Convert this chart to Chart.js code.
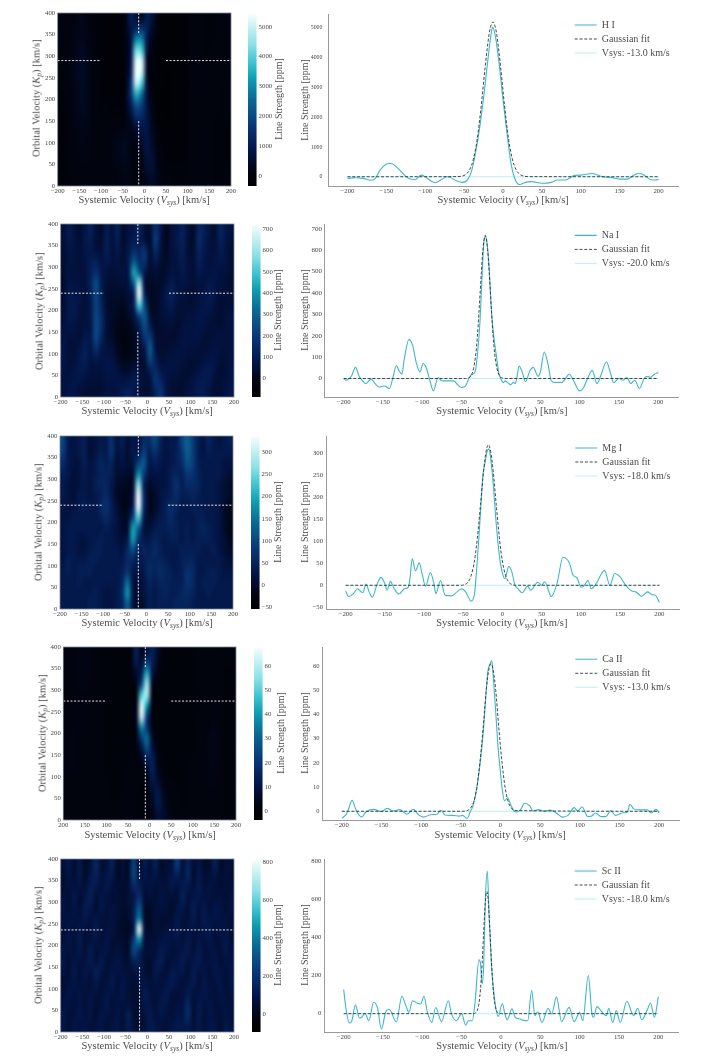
<!DOCTYPE html>
<html>
<head>
<meta charset="utf-8">
<title>Line strength maps</title>
<script src="https://cdn.jsdelivr.net/npm/chart.js@4"></script>
<style>
    html, body { margin: 0; padding: 0; background: #fff; }
    #page { position: relative; width: 708px; height: 1063px; overflow: hidden; }
    canvas { position: absolute; }
    .lbl { position: absolute; white-space: nowrap; font-family: "Liberation Serif", serif; color: #4d4d4d; line-height: 1; transform-origin: center center; }
    .lbl sub { font-size: 0.72em; line-height: 0; vertical-align: -0.25em; font-style: italic; }
</style>
</head>
<body>
<div id="page"></div>
<script>
// velocity grid of the maps (cell centres, km/s)
var mapColumns = [-193.75, -181.25, -168.75, -156.25, -143.75, -131.25, -118.75, -106.25, -93.75, -81.25, -68.75, -56.25, -43.75, -31.25, -18.75, -6.25, 6.25, 18.75, 31.25, 43.75, 56.25, 68.75, 81.25, 93.75, 106.25, 118.75, 131.25, 143.75, 156.25, 168.75, 181.25, 193.75];
var mapRows = [387.5, 362.5, 337.5, 312.5, 287.5, 262.5, 237.5, 212.5, 187.5, 162.5, 137.5, 112.5, 87.5, 62.5, 37.5, 12.5];

// tick labels
var velocityTicks = [-200, -150, -100, -50, 0, 50, 100, 150, 200];
var orbitalTicks = [0, 50, 100, 150, 200, 250, 300, 350, 400];
var hiStrengthTicks = [0, 1000, 2000, 3000, 4000, 5000];
var naStrengthTicks = [0, 100, 200, 300, 400, 500, 600, 700];
var mgStrengthTicks = [-50, 0, 50, 100, 150, 200, 250, 300];
var caStrengthTicks = [0, 10, 20, 30, 40, 50, 60];
var scStrengthTicks = [0, 200, 400, 600, 800];

// H I map (ppm)
var hiMap = [
    [50,100,100,200,300,150,0,-50,-100,-100,-100,-100,100,1000,700,300,1000,600,50,-100,-150,-150,-100,-50,0,50,50,0,0,50,100,100],
    [50,100,100,200,300,200,50,-50,-100,-100,-100,-100,100,800,1300,1600,1100,400,0,-100,-150,-150,-100,-50,0,50,50,0,0,50,100,100],
    [50,100,150,250,350,200,50,-50,-100,-100,-100,-100,50,700,3000,3000,800,200,-50,-100,-150,-150,-100,-50,0,50,50,0,0,50,100,100],
    [50,100,150,300,400,250,50,-50,-100,-100,-100,-100,0,800,4300,4000,600,100,-100,-150,-150,-150,-100,-50,50,100,50,0,50,50,50,50],
    [50,100,200,300,450,300,100,0,-100,-150,-100,-100,0,900,5200,5100,500,0,-100,-150,-150,-150,-100,-50,50,100,50,50,50,50,50,50],
    [0,50,200,350,450,300,100,0,-100,-150,-100,-100,0,1100,5400,5000,500,-50,-100,-150,-200,-150,-100,-50,50,100,100,50,50,50,50,50],
    [0,50,150,350,450,300,100,0,-50,-100,-100,-100,50,1500,5000,4000,500,-50,-150,-150,-200,-150,-100,-50,50,100,100,50,50,50,50,0],
    [0,50,150,300,400,300,100,0,-50,-100,-100,-50,100,1500,3500,2600,600,0,-150,-200,-200,-150,-100,-50,0,100,100,50,50,50,0,0],
    [-50,0,100,300,400,300,100,0,0,-50,-50,-50,100,1000,2200,1800,700,100,-150,-200,-200,-150,-100,-50,0,50,100,50,50,50,0,0],
    [-50,0,100,250,350,300,100,50,0,0,0,0,100,600,1400,1300,800,200,-100,-150,-200,-150,-100,-50,0,50,100,50,50,0,0,0],
    [-50,0,100,200,300,250,100,50,50,50,100,100,200,300,700,900,800,300,0,-100,-150,-150,-100,-50,0,50,100,100,50,0,0,-50],
    [-50,0,50,200,250,200,100,50,50,100,150,250,350,200,300,600,800,400,50,-100,-100,-100,-100,-50,0,50,100,100,50,0,0,-50],
    [-50,0,50,150,200,200,100,50,50,100,200,350,400,150,100,400,800,500,100,-50,-100,-100,-100,-50,0,50,100,100,50,0,0,-50],
    [-50,0,50,100,150,150,100,50,50,100,200,300,350,150,0,250,700,600,150,0,-50,-50,-50,0,50,50,100,100,50,0,0,-50],
    [-50,0,50,100,100,100,100,100,50,100,150,200,300,200,0,150,550,600,250,50,0,0,0,0,50,100,100,100,50,0,0,0],
    [-50,0,0,50,50,50,100,100,50,50,100,150,250,200,50,100,350,500,300,100,50,0,0,50,50,100,100,100,50,0,0,0]
];

// Na I map (ppm)
var naMap = [
    [50,100,60,30,80,120,60,30,100,60,120,30,60,80,130,50,40,170,80,0,60,80,120,60,20,130,110,70,40,130,80,60],
    [50,90,70,40,90,100,50,40,110,60,110,30,70,100,100,60,30,200,70,10,60,90,120,50,30,150,100,60,50,120,80,50],
    [40,80,70,50,80,90,60,60,110,60,90,40,90,160,130,180,40,150,60,20,60,80,110,50,40,130,90,60,60,100,70,40],
    [40,70,60,50,70,100,120,70,90,60,70,50,100,280,160,170,40,90,40,30,60,70,100,60,50,110,80,60,70,80,70,40],
    [40,70,60,60,60,110,170,90,60,50,60,60,90,430,270,90,30,50,30,40,70,60,90,60,50,90,70,70,80,60,60,40],
    [30,80,70,70,60,120,250,100,50,40,50,50,70,280,600,60,20,30,30,60,100,70,80,60,40,70,60,90,80,60,50,40],
    [30,90,80,70,50,100,230,110,40,30,30,30,50,120,710,130,10,20,40,90,120,70,60,50,40,60,70,100,70,50,50,50],
    [40,90,90,70,50,90,220,130,40,20,20,10,40,120,520,230,20,20,50,80,100,60,50,50,50,70,80,90,60,40,50,50],
    [50,90,90,60,60,90,230,150,50,20,10,0,20,60,220,280,60,20,50,60,70,50,50,60,60,80,80,70,50,40,60,60],
    [60,80,70,50,70,80,240,160,50,20,0,-10,0,30,100,240,110,30,40,50,50,40,60,70,70,80,70,50,50,50,60,60],
    [70,60,60,50,90,90,230,130,50,30,0,-20,-10,10,60,180,200,50,40,40,40,40,70,70,70,70,50,50,60,60,60,60],
    [80,50,50,70,110,80,170,90,60,50,10,-20,-10,10,40,90,280,70,40,40,50,60,70,60,60,50,50,60,70,60,60,60],
    [80,50,60,90,110,70,90,70,80,70,30,0,0,20,40,50,230,110,50,60,70,70,60,50,50,50,70,80,80,50,50,70],
    [70,60,70,90,90,60,60,60,80,80,60,30,30,60,60,40,110,150,80,70,70,60,50,40,50,70,90,100,70,40,50,80],
    [60,70,80,80,60,50,50,50,70,70,80,70,80,100,80,50,60,180,130,70,50,50,40,50,70,90,100,90,50,50,60,80],
    [60,80,80,60,50,40,40,50,60,60,70,100,120,90,60,40,50,130,180,80,50,40,40,60,80,100,100,70,40,50,70,90]
];

// Mg I map (ppm)
var mgMap = [
    [100,30,20,30,40,10,20,30,30,70,20,40,10,30,20,60,60,100,50,20,30,30,90,130,90,40,20,50,30,20,30,40],
    [90,30,20,30,40,10,20,40,30,70,20,30,10,30,30,90,40,70,40,20,30,40,70,130,90,40,20,40,30,30,30,30],
    [60,30,20,20,40,20,30,50,40,50,10,20,10,20,90,120,30,40,30,20,30,40,60,110,90,40,30,30,30,30,20,20],
    [40,30,10,20,30,20,30,50,50,40,10,10,0,10,170,90,20,20,20,20,40,50,40,80,70,50,30,30,30,30,20,10],
    [30,20,10,20,30,20,40,50,50,30,0,0,-10,10,270,50,0,10,20,20,40,70,40,60,60,50,30,30,30,20,10,0],
    [30,20,10,30,30,20,30,40,60,30,0,-10,-10,20,330,70,-10,0,20,30,40,60,40,40,50,40,30,30,30,20,10,0],
    [20,20,20,30,40,30,30,50,70,40,10,-10,-10,40,330,70,-10,0,20,40,60,50,30,30,40,40,30,30,30,20,0,-10],
    [20,20,30,30,30,30,30,40,60,40,20,0,0,90,240,40,0,10,30,40,60,40,30,30,30,40,40,30,30,20,0,-10],
    [20,30,30,30,30,30,30,30,40,30,20,0,10,190,130,20,10,30,40,40,50,40,30,40,30,40,50,40,30,20,0,-10],
    [20,30,30,20,20,30,30,40,30,30,20,10,30,190,70,30,30,50,40,30,40,40,30,40,30,40,40,40,30,20,10,-10],
    [20,30,30,20,20,30,40,40,30,30,30,20,60,110,40,50,40,60,40,30,30,30,40,40,40,40,30,30,40,20,10,0],
    [20,40,30,30,30,40,40,30,30,30,30,30,60,50,30,40,50,50,50,40,30,30,40,50,50,30,30,30,30,30,20,10],
    [30,40,30,40,40,40,30,30,30,30,30,40,70,30,20,30,60,50,60,50,40,30,40,70,60,30,30,40,40,30,20,20],
    [30,30,30,40,30,30,30,30,30,30,30,50,140,20,10,20,50,40,50,50,40,40,40,70,60,30,40,40,40,30,30,30],
    [30,30,30,30,30,30,40,30,20,20,30,60,180,20,10,20,40,30,40,50,40,40,50,60,50,30,30,40,30,30,30,30],
    [30,30,30,30,30,40,40,30,20,20,30,50,130,20,0,10,40,30,40,40,40,50,50,50,40,30,30,30,30,30,30,30]
];

// Ca II map (ppm)
var caMap = [
    [1,2,2,3,3,1,1,0,0,0,0,0,0,14,3,10,14,6,1,0,0,0,0,0,1,1,1,1,1,1,1,1],
    [1,2,2,3,3,1,1,0,0,0,0,0,1,12,8,24,14,4,1,0,0,0,0,0,1,1,1,1,1,1,1,1],
    [1,2,2,3,3,1,1,0,0,0,0,0,1,6,14,44,10,3,0,0,0,0,0,0,1,1,1,1,1,1,0,0],
    [1,1,2,3,2,1,1,0,0,0,0,0,0,3,26,58,6,1,0,0,0,0,0,0,1,1,1,1,1,1,0,0],
    [1,1,2,2,2,1,1,0,0,0,0,0,0,3,50,58,4,0,0,0,0,0,0,0,0,1,1,1,1,1,0,0],
    [1,1,2,2,2,1,1,1,0,0,0,0,0,5,66,38,3,0,0,0,0,0,0,0,0,1,1,1,2,1,0,0],
    [1,1,2,2,2,1,1,1,0,0,0,0,0,6,62,20,2,0,0,0,0,0,0,0,1,1,1,2,2,1,0,0],
    [1,2,2,2,2,1,1,1,0,0,0,0,0,4,36,20,3,0,0,0,0,0,0,0,1,1,1,3,3,1,0,0],
    [2,3,2,1,1,1,1,1,0,0,0,0,0,2,20,32,6,1,0,0,0,0,0,0,1,1,2,4,3,1,0,0],
    [2,3,2,1,1,1,1,1,0,0,0,0,1,1,8,24,10,2,0,0,0,0,0,0,1,1,2,4,3,1,0,0],
    [2,3,2,1,1,1,1,1,0,0,0,0,1,1,3,12,14,4,1,0,0,0,0,1,1,1,2,4,3,1,0,0],
    [2,2,2,1,1,1,1,1,0,0,0,1,1,1,1,5,14,5,2,1,0,0,0,1,1,2,2,3,2,1,0,0],
    [1,2,1,1,1,1,1,1,1,0,0,1,2,1,1,2,11,8,3,1,1,0,0,1,1,2,2,3,2,1,0,0],
    [1,1,1,1,1,1,1,1,1,0,1,1,2,1,0,1,7,12,5,2,1,1,0,1,1,1,1,2,2,1,0,0],
    [1,1,1,1,1,1,1,1,1,1,1,2,2,1,0,1,5,12,7,3,1,1,0,1,1,1,1,1,1,1,0,0],
    [1,1,1,1,1,1,1,1,1,1,1,2,1,1,0,1,3,8,7,4,2,1,1,1,1,1,1,1,1,1,0,0]
];

// Sc II map (ppm)
var scMap = [
    [60,100,40,100,30,60,160,60,60,130,20,60,30,250,40,110,60,130,30,60,60,230,60,140,50,90,40,40,130,30,60,60],
    [40,90,50,100,30,90,140,60,90,100,30,50,40,260,70,90,70,90,50,60,90,130,70,150,40,100,50,60,90,40,60,50],
    [50,70,70,80,60,120,100,70,100,70,50,40,50,170,120,70,80,60,70,60,100,70,110,100,60,110,60,80,60,50,60,60],
    [70,50,100,50,90,130,60,90,80,50,60,40,60,90,190,50,60,50,80,60,60,60,130,70,90,90,80,70,60,70,50,70],
    [80,60,90,50,110,100,50,100,60,70,60,40,50,120,300,50,30,60,70,60,40,80,100,60,120,70,100,60,90,80,60,80],
    [70,70,80,70,100,70,90,70,60,80,50,30,30,130,400,40,20,70,50,50,50,100,70,60,110,60,110,80,90,80,70,60],
    [50,90,60,90,70,60,110,60,70,80,40,30,20,100,780,80,30,60,50,70,70,110,60,80,80,70,90,100,70,80,80,50],
    [60,90,60,110,50,80,90,60,90,60,50,40,30,230,430,70,50,50,80,90,80,90,70,100,60,90,70,100,60,70,100,60],
    [80,70,70,100,60,110,60,80,90,50,70,50,40,260,160,50,60,60,110,90,60,70,90,100,70,110,60,80,80,50,100,70],
    [90,50,90,70,80,110,70,110,60,70,90,60,50,130,120,50,40,90,120,60,70,80,110,70,90,110,70,70,90,60,80,80],
    [70,50,100,60,90,70,130,90,60,90,80,70,60,60,100,60,40,100,80,60,100,90,90,60,110,70,90,60,90,80,60,90],
    [50,70,90,70,80,60,100,60,70,100,60,90,60,50,70,90,60,80,60,90,110,80,60,80,110,60,100,70,70,90,50,90],
    [60,90,70,80,60,80,70,60,90,80,70,90,60,40,50,110,80,60,80,110,70,60,70,110,70,80,90,80,60,90,60,70],
    [80,80,60,90,60,90,50,70,100,60,80,70,70,50,50,90,90,60,100,90,50,70,80,160,60,100,70,90,60,70,80,60],
    [90,60,70,90,70,80,50,90,80,60,90,60,130,50,40,70,110,70,90,70,60,90,90,170,50,110,60,90,70,50,90,60],
    [90,50,90,70,90,60,70,90,60,80,90,50,110,60,40,60,110,90,70,60,80,100,100,110,60,100,60,90,90,40,100,70]
];

// H I profile
var hiVelocity = [-200,-190,-180,-170,-165,-158,-150,-146,-140,-130,-122,-113,-105,-100,-92,-87,-80,-72,-68,-60,-52,-45,-40,-35,-30,-25,-20,-15,-13.5,-10,-5,0,5,10,15,21,30,37,50,62,70,80,92,100,115,128,140,150,160,167,175,183,190,197,200];
var hiStrength = [-55,-35,-55,-120,-80,220,425,445,400,145,-45,-100,55,0,-155,-200,-110,0,-20,-135,-190,-80,230,850,1650,2650,3800,4850,5030,4750,3800,2600,1500,500,-50,-260,-180,-165,-220,-190,-110,-110,45,55,110,0,-30,-80,-80,35,120,30,-100,-110,-80];
var hiFitVelocity = [-200,-60,-53,-48,-43,-38,-33,-28,-23,-18,-16,-13,-10,-8,-3,2,7,12,17,22,27,32,200];
var hiFit = [0,5,20,74,228,593,1294,2382,3677,4770,5040,5200,5040,4770,3677,2382,1294,593,228,74,20,5,0];

// Na I profile
var naVelocity = [-200,-197,-193,-190,-185,-180,-175,-172,-165,-160,-155,-148,-142,-137,-133,-130,-126,-123,-117,-112,-108,-103,-99,-95,-90,-86,-80,-75,-65,-60,-55,-50,-45,-40,-37,-33,-30,-27,-24,-22,-20,-18,-15,-12,-9,-6,-3,0,3,5,10,12,16,18,20,23,27,31,37,41,47,50,55,60,64,70,77,87,92,100,105,110,116,122,127,134,140,143,150,155,160,165,170,176,182,185,190,195,200];
var naStrength = [0,-8,0,12,52,8,-15,-24,-3,-24,-40,-35,-47,10,61,39,20,90,183,150,78,31,70,50,-15,-58,5,-11,-11,-11,-30,-42,-35,8,19,30,110,250,485,625,665,640,515,310,190,110,30,-3,-20,-11,-24,-30,-18,-24,0,58,30,-15,39,52,11,30,124,63,-11,-19,-19,20,-8,-58,-42,0,38,-24,15,77,15,-19,0,-8,5,-24,-8,-47,0,9,6,20,28];
var naFitVelocity = [-200,-45,-42,-38,-35,-32,-30,-28,-25,-23,-20,-17,-15,-12,-10,-8,-5,-2,2,5,200];
var naFit = [0,0,2,13,46,115,198,310,495,603,670,603,495,310,198,115,46,13,2,0,0];

// Mg I profile
var mgVelocity = [-200,-196,-190,-185,-178,-174,-170,-166,-160,-155,-150,-147,-143,-138,-132,-125,-120,-118,-115,-111,-106,-103,-98,-92,-87,-85,-79,-73,-65,-58,-52,-47,-40,-36,-32,-28,-25,-22,-19,-17,-15,-12,-8,-4,0,3,8,12,16,20,25,32,36,45,50,54,60,62,70,77,85,90,95,100,103,109,113,120,125,130,137,143,150,157,165,170,177,185,190,195,200];
var mgStrength = [-13,-26,-19,-8,-17,3,-15,-27,2,18,4,-11,9,-8,-20,-8,-4,15,61,33,51,30,-2,29,0,-19,11,-23,-24,-15,-8,-15,-36,-23,60,167,250,281,308,310,288,235,140,68,27,15,43,30,0,-8,-17,-2,-11,7,0,8,-19,-26,8,64,52,23,17,-4,-3,11,-8,5,23,34,0,27,19,0,-13,-15,-25,-15,-21,-23,-39];
var mgFitVelocity = [-200,-52,-48,-44,-40,-36,-32,-28,-24,-21,-18,-15,-12,-8,-4,0,4,8,12,16,200];
var mgFit = [0,0,2,7,22,53,108,184,262,304,320,304,262,184,108,53,22,7,2,0,0];

// Ca II profile
var caVelocity = [-200,-195,-192,-187,-183,-180,-175,-170,-160,-150,-143,-135,-127,-118,-110,-103,-97,-88,-80,-75,-70,-60,-52,-48,-42,-38,-35,-30,-26,-22,-19,-16,-13,-11,-9,-6,-3,0,2,5,9,13,17,20,26,30,37,41,48,55,62,70,78,85,93,97,103,110,115,120,127,133,139,145,155,160,163,168,175,185,190,196,200];
var caStrength = [-2.8,-1.5,0.5,4.5,1.2,-0.8,-2.3,-0.4,0.8,-0.1,1.2,0.1,0.7,-1.2,0.8,-1.5,-2.4,-1.4,-1.2,0.4,-1.5,-1.7,-2,-1.7,-2.9,-0.1,1.9,9.5,19,31.5,45,57.7,61,62.3,55,41,26,16,9.5,4.3,5.6,2.6,0.1,-0.3,1,3.3,2.2,0.1,0.7,0,0.5,-0.6,-2.4,-1.7,1.5,0.1,1.8,-2.2,-1.9,-0.7,-2.2,-2.2,0.3,-1.7,-0.6,-0.4,2.9,1,0.6,0.6,-0.7,0.8,-0.6];
var caFitVelocity = [-200,-46,-42,-38,-34,-30,-26,-22,-18,-15,-12,-9,-6,-2,2,6,10,14,18,200];
var caFit = [0,0,0.3,1.2,3.7,9.4,20,34,50,58,61,58,50,34,20,9.4,3.7,1.2,0.3,0];

// Sc II profile
var scVelocity = [-200,-197,-193,-190,-185,-180,-177,-173,-168,-162,-157,-152,-146.5,-142,-133,-126,-121,-117,-112.5,-107,-102,-98,-93.5,-88,-83,-75.6,-67,-63,-57,-50,-45,-41.6,-36.5,-33,-28,-26,-24,-22,-20,-17.4,-15,-12.3,-10,-6.4,-3.4,1.7,5,8,14,18,24,28.5,34,39,43,46.7,52,60,64.5,70.5,77,86.6,93,100,104,111,115.5,117.6,122,128,134,137,142,146.5,151.6,160,168.6,173.7,179,185.6,190,195,200];
var scStrength = [126,25,-49,-42,46,-23,-19,2,-37,60,30,-81,10,23,-44,91,42,7,68,56,51,91,7,-46,32,-42,68,0,-37,0,-60,-37,-37,60,282,261,156,253,586,747,498,270,147,25,-14,53,-2,-33,25,-19,-28,-35,-37,123,-10,10,-46,28,-2,88,-42,33,-42,7,-37,200,0,-19,37,10,-10,28,-46,16,-46,65,-10,28,-32,16,56,-19,89];
var scFitVelocity = [-200,-35,-32,-30,-28,-26,-24,-22,-20,-18,-16,-14,-12,-10,-8,-6,-4,-1,200];
var scFit = [0,0,5,18,54,132,260,430,580,640,580,430,260,132,54,18,5,0,0];

// colormap of the maps and colour bars
var COLOR_STOPS = [
    [0, [0, 0, 0]],
    [0.1, [1, 5, 20]],
    [0.2, [2, 20, 70]],
    [0.35, [9, 55, 120]],
    [0.5, [10, 104, 148]],
    [0.62, [14, 156, 176]],
    [0.72, [62, 196, 210]],
    [0.82, [138, 224, 228]],
    [1, [244, 253, 253]]
];

// plot rectangles on the page, one row per species
var ROWS = [
    { name: 'H I', map: hiMap, v: hiVelocity, s: hiStrength, fv: hiFitVelocity, f: hiFit, ticks: hiStrengthTicks, vsysText: 'Vsys: -13.0 km/s',
      vsys: -13, kp: 290, lo: -335, hi: 5426, yLo: -311, yHi: 5467, top: 12.7, bottom: 185.7, mapL: 57.7, barL: 248, lineL: 328.3, legendY: 24.7,
      kpX: 37, kpY: 98, vX: 144, vY: 200, barTx: 279, barTy: 99, lineTx: 503, lineTy: 200, lineLy: 99.5, noMinus: false, tickSize: 5.8, tickPad: 5.6 },
    { name: 'Na I', map: naMap, v: naVelocity, s: naStrength, fv: naFitVelocity, f: naFit, ticks: naStrengthTicks, vsysText: 'Vsys: -20.0 km/s',
      vsys: -22, kp: 240, lo: -86, hi: 720, yLo: -86.6, yHi: 723, top: 224.3, bottom: 396.7, mapL: 60.7, barL: 251.7, lineL: 324.3, legendY: 235.7,
      kpX: 40, kpY: 311, vX: 147, vY: 411.7, barTx: 278, barTy: 310, lineTx: 501.7, lineTy: 411.7, lineLy: 309.7, noMinus: false, tickSize: 7, tickPad: 2 },
    { name: 'Mg I', map: mgMap, v: mgVelocity, s: mgStrength, fv: mgFitVelocity, f: mgFit, ticks: mgStrengthTicks, vsysText: 'Vsys: -18.0 km/s',
      vsys: -19, kp: 240, lo: -54, hi: 335, yLo: -54, yHi: 340, top: 435.7, bottom: 608, mapL: 60, barL: 251, lineL: 325.7, legendY: 447.7,
      kpX: 39, kpY: 522, vX: 147, vY: 623, barTx: 278, barTy: 522, lineTx: 501.7, lineTy: 623, lineLy: 522, noMinus: false, tickSize: 6.7, tickPad: 3 },
    { name: 'Ca II', map: caMap, v: caVelocity, s: caStrength, fv: caFitVelocity, f: caFit, ticks: caStrengthTicks, vsysText: 'Vsys: -13.0 km/s',
      vsys: -10, kp: 275, lo: -3.6, hi: 67.4, yLo: -3.6, yHi: 67.9, top: 647, bottom: 820, mapL: 63.3, barL: 254.3, lineL: 321.7, legendY: 659.3,
      kpX: 43, kpY: 733, vX: 150, vY: 835, barTx: 281, barTy: 733, lineTx: 500, lineTy: 835, lineLy: 733, noMinus: true, tickSize: 6.5, tickPad: 2.4 },
    { name: 'Sc II', map: scMap, v: scVelocity, s: scStrength, fv: scFitVelocity, f: scFit, ticks: scStrengthTicks, vsysText: 'Vsys: -18.0 km/s',
      vsys: -18, kp: 236, lo: -96, hi: 810, yLo: -96, yHi: 810, top: 858.7, bottom: 1031, mapL: 60.7, barL: 251.7, lineL: 324.3, legendY: 870.7,
      kpX: 39, kpY: 945, vX: 147, vY: 1046, barTx: 278, barTy: 945, lineTx: 501.7, lineTy: 1046, lineLy: 945, noMinus: false, tickSize: 6.7, tickPad: 2.6 }
];
var BAR_TICKS_PAD = 2;
var SERIF = '"Liberation Serif", serif';
var page = document.getElementById('page');

Chart.defaults.animation = false;
Chart.defaults.font.family = SERIF;

function colorAt(frac) {
    var t = Math.max(0, Math.min(1, frac));
    for (var i = 1; i < COLOR_STOPS.length; i++) {
        if (t <= COLOR_STOPS[i][0]) {
            var a = COLOR_STOPS[i - 1], b = COLOR_STOPS[i];
            var k = (t - a[0]) / (b[0] - a[0]);
            return 'rgb(' + [0, 1, 2].map(function (c) {
                return Math.round(a[1][c] + (b[1][c] - a[1][c]) * k);
            }).join(',') + ')';
        }
    }
    return 'rgb(244,253,253)';
}

function makeCanvas(left, top, width, height) {
    var c = document.createElement('canvas');
    c.width = width;
    c.height = height;
    c.style.left = left + 'px';
    c.style.top = top + 'px';
    c.style.width = width + 'px';
    c.style.height = height + 'px';
    page.appendChild(c);
    return c;
}

function addLabel(html, cx, cy, size, vertical) {
    var el = document.createElement('div');
    el.className = 'lbl';
    el.style.fontSize = size + 'px';
    el.innerHTML = html;
    page.appendChild(el);
    el.style.left = (cx - el.offsetWidth / 2) + 'px';
    el.style.top = (cy - el.offsetHeight / 2) + 'px';
    if (vertical) el.style.transform = 'rotate(-90deg)';
}

function pinTicks(values) {
    return function (scale) {
        scale.ticks = values.map(function (v) { return { value: v }; });
    };
}

function tickText(noMinus) {
    return function (value) {
        return noMinus ? String(Math.abs(value)) : String(value).replace('-', '\u2212');
    };
}

// resamples the drawn cells at their centres and lays them back smoothly, as an imshow would
var smoothCells = {
    id: 'smoothCells',
    beforeDatasetDraw: function (chart, args) {
        if (chart.data.datasets[args.index].type !== 'line') return;
        var a = chart.chartArea, r = chart.currentDevicePixelRatio;
        var small = document.createElement('canvas');
        small.width = mapColumns.length;
        small.height = mapRows.length;
        var sctx = small.getContext('2d');
        sctx.imageSmoothingEnabled = false;
        sctx.drawImage(chart.canvas, a.left * r, a.top * r, a.width * r, a.height * r, 0, 0, small.width, small.height);
        var ctx = chart.ctx;
        ctx.save();
        ctx.imageSmoothingEnabled = true;
        ctx.imageSmoothingQuality = 'high';
        ctx.drawImage(small, a.left, a.top, a.width, a.height);
        ctx.restore();
    }
};

var mapFrame = {
    id: 'mapFrame',
    afterDatasetsDraw: function (chart) {
        var a = chart.chartArea, ctx = chart.ctx;
        ctx.save();
        ctx.strokeStyle = '#7c869c';
        ctx.lineWidth = 0.8;
        ctx.strokeRect(a.left, a.top, a.width, a.height);
        ctx.restore();
    }
};

function drawMap(row) {
    var plotW = 172.7;
    var cTop = row.top - 8, cLeft = 0, cW = row.mapL + plotW + 14, cH = row.bottom - row.top + 8 + 22;
    var canvas = makeCanvas(cLeft, cTop, Math.ceil(cW), Math.ceil(cH));
    var datasets = row.map.map(function (values, r) {
        return {
            type: 'bar',
            order: 1,
            grouped: false,
            barThickness: plotW / mapColumns.length + 0.5,
            backgroundColor: values.map(function (v) { return colorAt((v - row.lo) / (row.hi - row.lo)); }),
            data: values.map(function (v, c) {
                return { x: mapColumns[c], y: [mapRows[r] - 12.5, mapRows[r] + 12.5] };
            })
        };
    });
    // dashed cross marking the adopted Vsys and Kp
    datasets.push({
        type: 'line',
        order: 0,
        borderColor: 'rgba(255,255,255,0.9)',
        borderWidth: 1,
        borderDash: [2, 1.6],
        pointRadius: 0,
        tension: 0,
        spanGaps: false,
        data: [
            { x: -200, y: row.kp }, { x: -100, y: row.kp }, { x: -100, y: null },
            { x: 50, y: row.kp }, { x: 200, y: row.kp }, { x: 200, y: null },
            { x: row.vsys, y: 400 }, { x: row.vsys, y: 350 }, { x: row.vsys, y: null },
            { x: row.vsys, y: 150 }, { x: row.vsys, y: 0 }
        ]
    });
    new Chart(canvas, {
        type: 'bar',
        data: { datasets: datasets },
        plugins: [smoothCells, mapFrame],
        options: {
            responsive: false,
            devicePixelRatio: 1,
            layout: { padding: { top: row.top - cTop, right: cW - row.mapL - plotW, left: 0, bottom: 0 } },
            plugins: { legend: { display: false }, tooltip: { enabled: false } },
            scales: {
                x: {
                    type: 'linear', offset: false, min: -200, max: 200,
                    afterBuildTicks: pinTicks(velocityTicks),
                    afterFit: function (s) { s.height = cTop + cH - row.bottom; },
                    grid: { display: false, drawTicks: false },
                    border: { display: false },
                    ticks: { autoSkip: false, maxRotation: 0, padding: 1.5, color: '#444', font: { size: 6.8 }, callback: tickText(row.noMinus) }
                },
                y: {
                    min: 0, max: 400,
                    afterBuildTicks: pinTicks(orbitalTicks),
                    afterFit: function (s) { s.width = row.mapL; },
                    grid: { display: false, drawTicks: false },
                    border: { display: false },
                    ticks: { autoSkip: false, padding: 2.5, color: '#444', font: { size: 6.8 } }
                }
            }
        }
    });
}

function drawColorBar(row) {
    var plotW = 8.6;
    var cLeft = row.barL - 4, cTop = row.top - 8, cW = 36, cH = row.bottom - row.top + 16;
    var canvas = makeCanvas(cLeft, cTop, cW, Math.ceil(cH));
    new Chart(canvas, {
        type: 'bar',
        data: {
            labels: [row.name],
            datasets: [{
                data: [[row.lo, row.hi]],
                barPercentage: 1,
                categoryPercentage: 1,
                backgroundColor: function (ctx) {
                    var chart = ctx.chart;
                    if (!chart.chartArea) return '#000';
                    var y = chart.scales.y;
                    var g = chart.ctx.createLinearGradient(0, y.getPixelForValue(row.lo), 0, y.getPixelForValue(row.hi));
                    COLOR_STOPS.forEach(function (s) { g.addColorStop(s[0], colorAt(s[0])); });
                    return g;
                }
            }]
        },
        options: {
            responsive: false,
            devicePixelRatio: 1,
            layout: { padding: { top: row.top + 1 - cTop, bottom: cTop + cH - row.bottom, left: 4, right: 0 } },
            plugins: { legend: { display: false }, tooltip: { enabled: false } },
            scales: {
                x: { display: false },
                y: {
                    position: 'right', min: row.lo, max: row.hi,
                    afterBuildTicks: pinTicks(row.ticks),
                    afterFit: function (s) { s.width = cW - 4 - plotW; },
                    grid: { display: false, drawTicks: false },
                    border: { display: false },
                    ticks: { autoSkip: false, padding: BAR_TICKS_PAD, color: '#444', font: { size: 6.8 }, callback: tickText(false) }
                }
            }
        }
    });
}

function drawProfile(row) {
    var plotRight = 677.7;
    var cLeft = row.lineL - 34, cTop = row.top - 8, cW = plotRight - cLeft + 12, cH = row.bottom - row.top + 8 + 22;
    var canvas = makeCanvas(cLeft, cTop, Math.ceil(cW), Math.ceil(cH));
    var series = row.v.map(function (x, i) { return { x: x, y: row.s[i] }; });
    var fit = row.fv.map(function (x, i) { return { x: x, y: row.f[i] }; });
    // keep the legend where the reference has it
    var placeLegend = {
        id: 'placeLegend',
        afterLayout: function (chart) {
            chart.legend.left = 575 - cLeft - 4;
            chart.legend.top = row.legendY - cTop - 5 - 4;
        }
    };
    new Chart(canvas, {
        type: 'line',
        data: {
            datasets: [
                { label: row.name, data: series, order: 2, borderColor: '#3fb6cd', borderWidth: 1.1, cubicInterpolationMode: 'monotone', pointRadius: 0 },
                { label: 'Gaussian fit', data: fit, order: 1, borderColor: '#2f3437', borderWidth: 0.9, borderDash: [3, 1.8], cubicInterpolationMode: 'monotone', pointRadius: 0 },
                { label: row.vsysText, data: [{ x: -200, y: 0 }, { x: 200, y: 0 }], order: 3, borderColor: '#b4edf1', borderWidth: 0.9, pointRadius: 0 }
            ]
        },
        plugins: [placeLegend],
        options: {
            responsive: false,
            devicePixelRatio: 1,
            layout: { padding: { top: row.top - cTop, right: cW - (plotRight - cLeft), left: 0, bottom: 0 } },
            plugins: {
                tooltip: { enabled: false },
                legend: {
                    position: 'chartArea',
                    align: 'start',
                    labels: {
                        usePointStyle: true,
                        pointStyleWidth: 22,
                        padding: 4,
                        color: '#4d4d4d',
                        font: { size: 10 },
                        generateLabels: function (chart) {
                            return chart.data.datasets.map(function (d, i) {
                                return {
                                    text: d.label, datasetIndex: i, pointStyle: 'line', fontColor: '#4d4d4d',
                                    fillStyle: d.borderColor, strokeStyle: d.borderColor, lineWidth: d.borderWidth, lineDash: d.borderDash || []
                                };
                            });
                        }
                    }
                }
            },
            scales: {
                x: {
                    type: 'linear', min: -225, max: 225,
                    afterBuildTicks: pinTicks(velocityTicks),
                    afterFit: function (s) { s.height = cTop + cH - row.bottom; },
                    grid: { display: false, drawTicks: false },
                    border: { color: '#9a9a9a', width: 1 },
                    ticks: { autoSkip: false, maxRotation: 0, padding: 1.5, color: '#444', font: { size: 6.8 }, callback: tickText(false) }
                },
                y: {
                    min: row.yLo, max: row.yHi,
                    afterBuildTicks: pinTicks(row.ticks),
                    afterFit: function (s) { s.width = row.lineL - cLeft; },
                    grid: { display: false, drawTicks: false },
                    border: { color: '#9a9a9a', width: 1 },
                    ticks: { autoSkip: false, padding: row.tickPad, color: '#444', font: { size: row.tickSize }, callback: tickText(false) }
                }
            }
        }
    });
}

ROWS.forEach(function (row) {
    drawMap(row);
    drawColorBar(row);
    drawProfile(row);

    var velocityTitle = 'Systemic Velocity (<i>V<sub>sys</sub></i>) [km/s]';
    addLabel('Orbital Velocity (<i>K<sub>p</sub></i>) [km/s]', row.kpX, row.kpY, 10.5, true);
    addLabel(velocityTitle, row.vX, row.vY, 10.5, false);
    addLabel('Line Strength [ppm]', row.barTx, row.barTy, 10, true);
    addLabel('Line Strength [ppm]', 305, row.lineLy, 10, true);
    addLabel(velocityTitle, row.lineTx, row.lineTy, 10.5, false);
});
</script>
</body>
</html>
